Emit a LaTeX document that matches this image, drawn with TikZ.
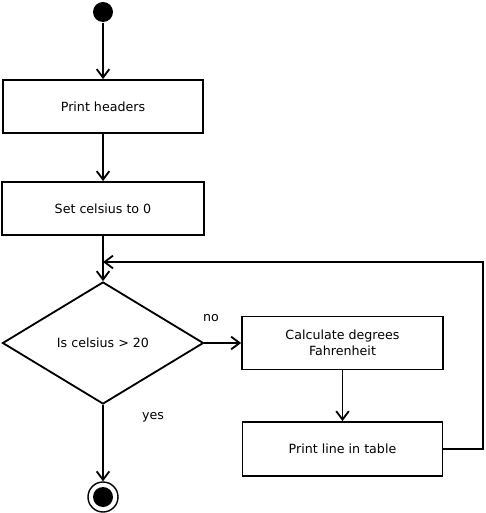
\documentclass[tikz,border=0pt]{standalone}
\usepackage{fontspec}
\setmainfont{DejaVu Sans}
\usetikzlibrary{shapes.geometric,arrows.meta}

\begin{document}
\begin{tikzpicture}[line width=1.3pt, >={Straight Barb[length=6pt,width=9pt]},
		action/.style={draw, rectangle, minimum width=5cm, minimum height=1.325cm, font=\fontsize{9}{11}\selectfont, align=center},
		decision/.style={draw, diamond, minimum width=5.025cm, minimum height=3.05cm, inner sep=0pt, font=\fontsize{9}{11}\selectfont},
		guard/.style={font=\fontsize{9}{11}\selectfont}]
		\useasboundingbox (0,0) rectangle (12.125,-12.825);
		\node[circle, fill, minimum size=0.5cm, inner sep=0pt] (start) at (2.575,-0.3) {};
		\node[action] (headers) at (2.575,-2.6625) {Print headers};
		\node[action, minimum width=5.05cm] (init) at (2.575,-5.2125) {Set celsius to 0};
		\node[decision] (test) at (2.575,-8.575) {Is celsius > 20};
		\node[action, minimum width=5.025cm] (calc) at (8.5625,-8.575) {Calculate degrees\\Fahrenheit};
		\node[action, minimum height=1.35cm] (print) at (8.5625,-11.225) {Print line in table};
		\node[circle, draw, line width=1pt, minimum size=0.75cm, inner sep=0pt] (stop) at (2.575,-12.425) {};
		\fill (stop.center) circle (0.25);
		\coordinate (join) at (2.575,-6.55);
		\coordinate (corner) at (12.075,-6.55);
		
		\draw[->] (start) -- (headers);
		\draw[->] (headers) -- (init);
		\draw[->] (init) -- (test);
		\draw[->] (test) -- (calc);
		\draw[->] (calc) -- (print);
		\draw[->] (print.east) -| (corner) -- (join);
		\draw[->] (test.south) -- (stop.north);
		
		\node[guard] (no) at (5.275,-7.95) {no};
		\node[guard] (yes) at (3.825,-10.425) {yes};
	\end{tikzpicture}
\end{document}
